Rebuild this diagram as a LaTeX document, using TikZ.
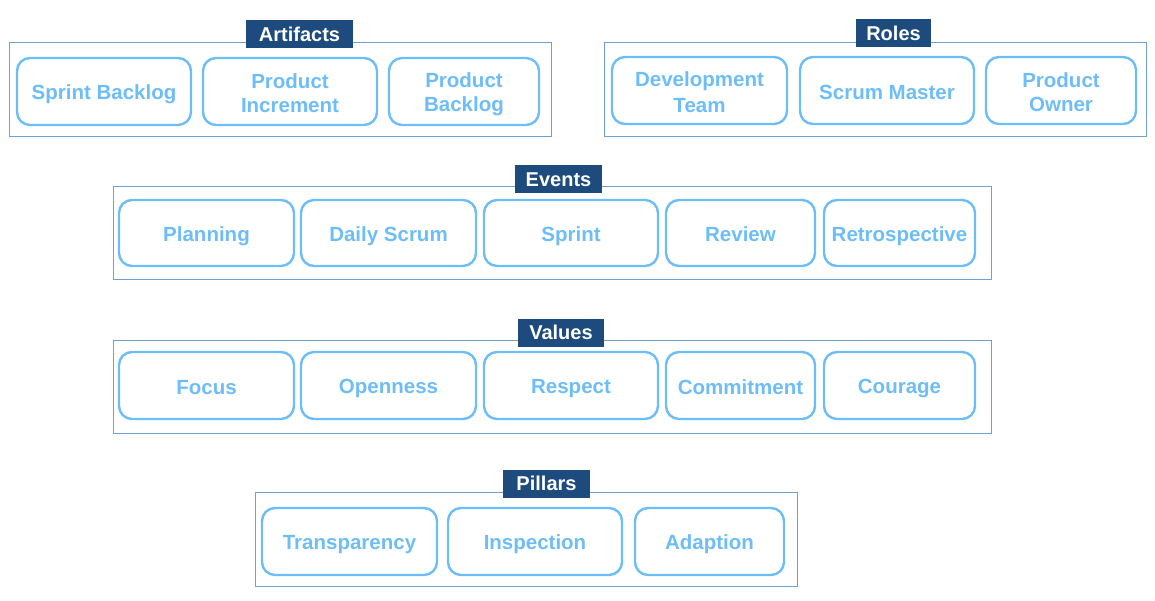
\documentclass[tikz,border=0pt]{standalone}
\usepackage{fontspec}
\setmainfont{Liberation Sans}
\definecolor{itemblue}{HTML}{6DBDF9}
\definecolor{groupline}{HTML}{6F9FD3}
\definecolor{titlefill}{HTML}{1D4B7E}
% one line of box text, with a fixed-size strut so that all lines sit alike
\newcommand{\boxline}[1]{\rule[-3.4pt]{0pt}{24pt}#1}
\begin{document}
\begin{tikzpicture}[x=1pt,y=-1pt,
  item/.style={draw=itemblue, line width=2.4pt, rounded corners=13pt,
    text=itemblue, font=\bfseries\fontsize{20.5}{24}\selectfont, align=center,
    inner sep=0pt},
  group/.style={draw=groupline, line width=1pt},
  title/.style={fill=titlefill, text=white, font=\bfseries\fontsize{20}{22}\selectfont,
    inner sep=0pt, minimum height=28pt, text height=14.5pt, text depth=0pt}]
\useasboundingbox (0,0) rectangle (1155,601);

% Artifacts
\draw[group] (9,43) rectangle (551,137);
\node[title, minimum width=107pt] (tart) at (299.5,34) {Artifacts};
\node[item, minimum width=174pt, minimum height=67pt] (sb) at (104,91.5) {\boxline{Sprint Backlog}};
\node[item, minimum width=174pt, minimum height=67pt] (pi) at (290,91.5) {\boxline{Product}\\\boxline{Increment}};
\node[item, minimum width=150pt, minimum height=67pt] (pb) at (464,91.5) {\boxline{Product}\\\boxline{Backlog}};

% Roles
\draw[group] (604,43) rectangle (1146,137);
\node[title, minimum width=75pt] (trol) at (893.5,33) {Roles};
\node[item, minimum width=175pt, minimum height=67pt] (dt) at (699.5,90.5) {\boxline{Development}\\\boxline{Team}};
\node[item, minimum width=174pt, minimum height=67pt] (sm) at (887,90.5) {\boxline{Scrum Master}};
\node[item, minimum width=150pt, minimum height=67pt] (po) at (1061,90.5) {\boxline{Product}\\\boxline{Owner}};

% Events
\draw[group] (113,187) rectangle (991,280);
\node[title, minimum width=87pt] (tevt) at (558.5,179.5) {Events};
\node[item, minimum width=175pt, minimum height=66pt] (pl) at (206.5,233) {\boxline{Planning}};
\node[item, minimum width=175pt, minimum height=66pt] (ds) at (388.5,233) {\boxline{Daily Scrum}};
\node[item, minimum width=174pt, minimum height=66pt] (sp) at (571,233) {\boxline{Sprint}};
\node[item, minimum width=149pt, minimum height=66pt] (rv) at (740.5,233) {\boxline{Review}};
\node[item, minimum width=151pt, minimum height=66pt] (rt) at (899.5,233) {\boxline{Retrospective}};

% Values
\draw[group] (113,340) rectangle (991,433);
\node[title, minimum width=86pt] (tval) at (561,332.5) {Values};
\node[item, minimum width=175pt, minimum height=67pt] (fo) at (206.5,385.5) {\boxline{Focus}};
\node[item, minimum width=175pt, minimum height=67pt] (op) at (388.5,385.5) {\boxline{Openness}};
\node[item, minimum width=174pt, minimum height=67pt] (re) at (571,385.5) {\boxline{Respect}};
\node[item, minimum width=149pt, minimum height=67pt] (co) at (740.5,385.5) {\boxline{Commitment}};
\node[item, minimum width=151pt, minimum height=67pt] (cg) at (899.5,385.5) {\boxline{Courage}};

% Pillars
\draw[group] (255,492) rectangle (797,586);
\node[title, minimum width=87pt] (tpil) at (546.5,483.5) {Pillars};
\node[item, minimum width=175pt, minimum height=67pt] (tr) at (349.5,541.5) {\boxline{Transparency}};
\node[item, minimum width=174pt, minimum height=67pt] (in) at (535,541.5) {\boxline{Inspection}};
\node[item, minimum width=149pt, minimum height=67pt] (ad) at (709.5,541.5) {\boxline{Adaption}};
\end{tikzpicture}
\end{document}
